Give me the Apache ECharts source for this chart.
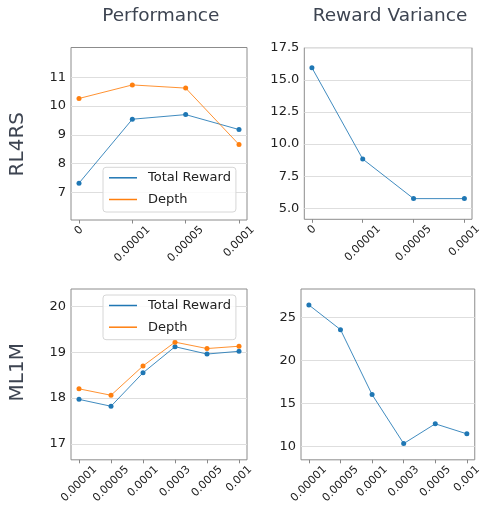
<!DOCTYPE html>
<html><head><meta charset="utf-8">
<script src="https://cdn.jsdelivr.net/npm/echarts@6/dist/echarts.min.js"></script>
<style>html,body{margin:0;padding:0;background:#fff}#c{width:484px;height:506px}</style>
</head><body><div id="c"></div>
<script>
// ---- data ----
const rl4rsLambdas = ['0', '0.00001', '0.00005', '0.0001'];
const rl4rsTotalReward = [7.32, 9.54, 9.70, 9.18];
const rl4rsDepth = [10.26, 10.73, 10.62, 8.66];
const rl4rsVariance = [15.94, 8.83, 5.75, 5.75];
const ml1mLambdas = ['0.00001', '0.00005', '0.0001', '0.0003', '0.0005', '0.001'];
const ml1mTotalReward = [17.97, 17.82, 18.55, 19.12, 18.96, 19.02];
const ml1mDepth = [18.20, 18.06, 18.70, 19.22, 19.08, 19.13];
const ml1mVariance = [26.43, 23.56, 16.0, 10.3, 12.6, 11.43];
const rl4rsPerfTicks = [7, 8, 9, 10, 11];
const rl4rsVarTicks = [5.0, 7.5, 10.0, 12.5, 15.0, 17.5];
const ml1mPerfTicks = [17, 18, 19, 20];
const ml1mVarTicks = [10, 15, 20, 25];
const colTitles = ['Performance', 'Reward Variance'];
const rowTitles = ['RL4RS', 'ML1M'];
const legendNames = ['Total Reward', 'Depth'];

// ---- styling ----
const FONT = '"DejaVu Sans", sans-serif';
const BLUE = '#1f77b4', ORANGE = '#ff7f0e';
const canvas = document.createElement('canvas');
const ctx = canvas.getContext('2d');
function measure(t) { ctx.font = '11px "DejaVu Sans"'; return ctx.measureText(t).width; }

function xAxis(gridIndex, cats) {
  const n = cats.length;
  const pad = 0.05 * (n - 1);
  const idx = cats.map((_, i) => i);
  const rich = {};
  cats.forEach((c, i) => {
    const L = measure(c);
    rich['p' + i] = { fontSize: 11, fontFamily: FONT, color: '#222', padding: [L / 2, L / 2, 0, 0] };
  });
  return {
    type: 'value', gridIndex, min: -pad, max: n - 1 + pad,
    axisLine: { show: false }, splitLine: { show: false },
    axisTick: { show: true, customValues: idx, length: 3.5, lineStyle: { color: '#888' } },
    axisLabel: {
      customValues: idx, rotate: 45, align: 'center', verticalAlign: 'middle', margin: 8,
      formatter: v => { const i = Math.round(v); return '{p' + i + '|' + cats[i] + '}'; },
      rich
    }
  };
}
function yAxis(gridIndex, min, max, ticks, dec) {
  return {
    type: 'value', gridIndex, min, max,
    axisLine: { show: false }, splitLine: { show: false },
    axisTick: { show: true, customValues: ticks, length: 3.5, lineStyle: { color: '#888' } },
    axisLabel: { customValues: ticks, margin: 5, fontSize: 13, color: '#222', fontFamily: FONT,
      formatter: v => Number(v).toFixed(dec) }
  };
}
function gridLines(ticks) {
  return {
    silent: true, symbol: ['none', 'none'], label: { show: false }, animation: false, z: 1,
    lineStyle: { color: '#dedede', type: 'solid', width: 1 },
    data: ticks.map(t => ({ yAxis: t }))
  };
}
function line(name, idx, vals, color, ticks) {
  const s = {
    type: 'line', name, xAxisIndex: idx, yAxisIndex: idx,
    data: vals.map((v, i) => [i, v]),
    symbol: 'circle', symbolSize: 5, showSymbol: true,
    itemStyle: { color }, lineStyle: { color, width: 1, opacity: 0.85 },
    animation: false, z: 3
  };
  if (ticks) s.markLine = gridLines(ticks);
  return s;
}
function legend(top) {
  return {
    orient: 'vertical', left: 103, top, padding: [3, 5, 5, 6], itemGap: 6.7,
    itemWidth: 28, itemHeight: 1.5, icon: 'rect',
    borderColor: '#d6d6d6', borderWidth: 1, borderRadius: 3, backgroundColor: 'rgba(255,255,255,0.85)',
    textStyle: { fontSize: 13, fontFamily: FONT, color: '#222', lineHeight: 15, padding: [0, 0, 0, 6] },
    data: legendNames
  };
}
const gridStyle = { show: true, borderColor: '#8c8c8c', borderWidth: 1, backgroundColor: 'transparent' };
const TITLE = '#3d4451';

const option = {
  animation: false,
  grid: [
    Object.assign({ left: 71, top: 47.5, width: 176, height: 172.5 }, gridStyle),
    Object.assign({ left: 304.3, top: 47.7, width: 176, height: 171.6 }, gridStyle),
    Object.assign({ left: 71, top: 289, width: 176, height: 171 }, gridStyle),
    Object.assign({ left: 301, top: 289, width: 176.3, height: 171 }, gridStyle)
  ],
  xAxis: [
    xAxis(0, rl4rsLambdas), xAxis(1, rl4rsLambdas), xAxis(2, ml1mLambdas), xAxis(3, ml1mLambdas)
  ],
  yAxis: [
    yAxis(0, 6.04, 12.03, rl4rsPerfTicks, 0),
    yAxis(1, 4.14, 17.5, rl4rsVarTicks, 1),
    yAxis(2, 16.65, 20.38, ml1mPerfTicks, 0),
    yAxis(3, 8.41, 28.29, ml1mVarTicks, 0)
  ],
  legend: [legend(167.3), legend(295)],
  series: [
    line(legendNames[0], 0, rl4rsTotalReward, BLUE, rl4rsPerfTicks),
    line(legendNames[1], 0, rl4rsDepth, ORANGE),
    line('RL4RS Variance', 1, rl4rsVariance, BLUE, rl4rsVarTicks),
    line(legendNames[0], 2, ml1mTotalReward, BLUE, ml1mPerfTicks),
    line(legendNames[1], 2, ml1mDepth, ORANGE),
    line('ML1M Variance', 3, ml1mVariance, BLUE, ml1mVarTicks)
  ],
  graphic: [
    { type: 'text', x: 160.8, y: 16, style: { text: colTitles[0], fontSize: 18.5, fontFamily: FONT, fill: TITLE, align: 'center', verticalAlign: 'middle' } },
    { type: 'text', x: 390, y: 16, style: { text: colTitles[1], fontSize: 18.5, fontFamily: FONT, fill: TITLE, align: 'center', verticalAlign: 'middle' } },
    { type: 'text', x: 18, y: 144.2, rotation: Math.PI / 2, style: { text: rowTitles[0], fontSize: 20, fontFamily: FONT, fill: TITLE, align: 'center', verticalAlign: 'middle' } },
    { type: 'text', x: 18, y: 372.3, rotation: Math.PI / 2, style: { text: rowTitles[1], fontSize: 20, fontFamily: FONT, fill: TITLE, align: 'center', verticalAlign: 'middle' } }
  ]
};
const chart = echarts.init(document.getElementById('c'), null, { renderer: 'canvas' });
chart.setOption(option);
</script>
</body></html>
